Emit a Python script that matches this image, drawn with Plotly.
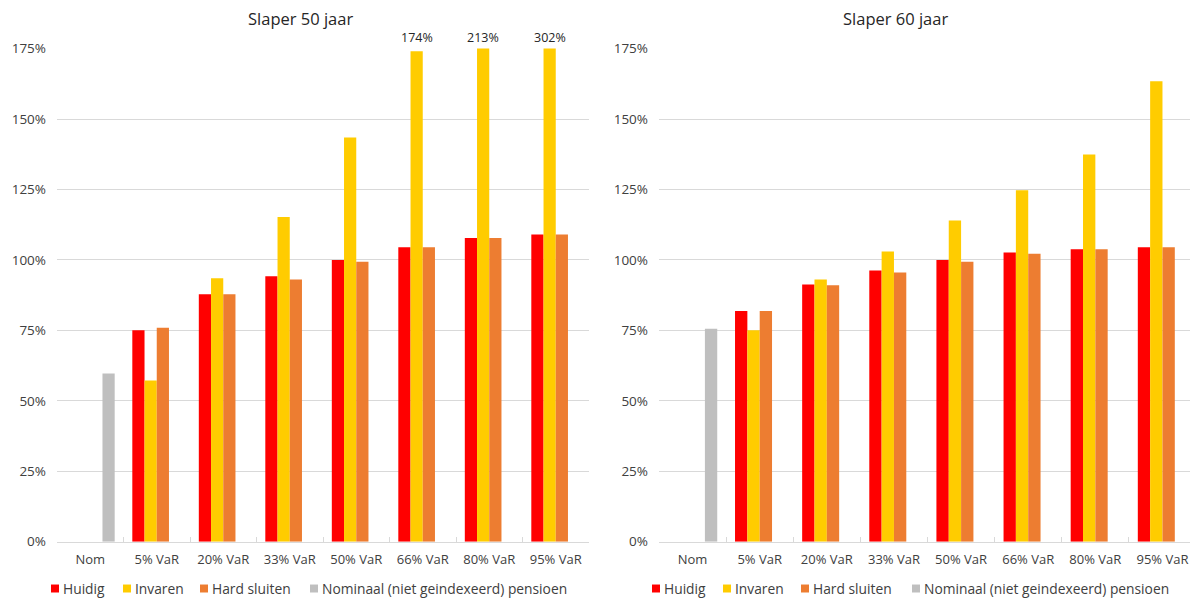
import plotly.graph_objects as go

# Scenario categories (shared by both panels)
categories = ["Nom", "5% VaR", "20% VaR", "33% VaR", "50% VaR", "66% VaR", "80% VaR", "95% VaR"]

# Slaper 50 jaar (percent of target pension)
huidig_50 = [None, 75.0, 87.8, 94.2, 100.0, 104.5, 107.8, 109.0]
invaren_50 = [None, 57.2, 93.5, 115.2, 143.4, 174.0, 213.0, 302.0]
hard_50 = [None, 75.9, 87.8, 93.0, 99.3, 104.5, 107.8, 109.0]
nominaal_50 = [59.7, None, None, None, None, None, None, None]

# Slaper 60 jaar
huidig_60 = [None, 81.9, 91.3, 96.2, 100.0, 102.6, 103.8, 104.5]
invaren_60 = [None, 75.0, 93.0, 103.0, 114.0, 124.7, 137.4, 163.4]
hard_60 = [None, 81.9, 91.0, 95.5, 99.3, 102.2, 103.8, 104.5]
nominaal_60 = [75.6, None, None, None, None, None, None, None]

series_names = ["Huidig", "Invaren", "Hard sluiten", "Nominaal (niet geindexeerd) pensioen"]
colors = ["#FF0000", "#FFCC00", "#ED7D31", "#BFBFBF"]

Y_MAX = 175
BARGAP = 0.265
FONT = "Open Sans"
TEXT = "#404040"
GRID = "#D9D9D9"

# vertical placement helper: pixel row -> paper fraction
V_OFF, V_H = 8.3, 584.2


def py(px):
    return 1 - (px - V_OFF) / V_H


fig = go.Figure()

panels = [
    ("x", "y", [huidig_50, invaren_50, hard_50, nominaal_50]),
    ("x2", "y2", [huidig_60, invaren_60, hard_60, nominaal_60]),
]
for xa, ya, series in panels:
    for name, vals, col in zip(series_names, series, colors):
        fig.add_trace(go.Bar(
            x=categories, y=vals, name=name, xaxis=xa, yaxis=ya,
            marker=dict(color=col, line=dict(width=0)),
            showlegend=False, hoverinfo="x+y+name",
        ))

y_dom = [py(543), py(48)]
xcommon = dict(
    type="category", showgrid=False, showline=True, linecolor=GRID, linewidth=1,
    ticks="inside", tickson="boundaries", ticklen=5, tickcolor=GRID,
    tickfont=dict(family=FONT, size=13, color=TEXT), ticklabelstandoff=6,
    fixedrange=True,
)
ycommon = dict(
    range=[0, Y_MAX], dtick=25, ticksuffix="%", showgrid=True, gridcolor=GRID,
    gridwidth=1, zeroline=False, showline=False,
    tickfont=dict(family=FONT, size=13.5, color=TEXT),
    ticklabelstandoff=10, fixedrange=True, domain=y_dom,
)

fig.update_layout(
    width=1190, height=600,
    margin=dict(l=0, r=0, t=0, b=0),
    paper_bgcolor="white", plot_bgcolor="white",
    barmode="group", bargap=BARGAP, bargroupgap=0,
    xaxis=dict(domain=[57 / 1190, 589 / 1190], anchor="y", range=[-0.5, 7.5], **xcommon),
    yaxis=dict(anchor="x", **ycommon),
    xaxis2=dict(domain=[659 / 1190, 1.0], anchor="y2", range=[-0.5, 7.41], **xcommon),
    yaxis2=dict(anchor="x2", **ycommon),
    font=dict(family=FONT, color=TEXT),
)

# Panel titles
for txt, xc in [("Slaper 50 jaar", 300 / 1190), ("Slaper 60 jaar", 895 / 1190)]:
    fig.add_annotation(text=txt, x=xc, y=py(18), xref="paper", yref="paper",
                       showarrow=False, font=dict(family=FONT, size=16.5, color="#262626"),
                       xanchor="center", yanchor="middle")

# Values of the clipped "Invaren" bars, written above the plot area
bar_w = (1 - BARGAP) / 4
for i, v in enumerate(invaren_50):
    if v is not None and v > Y_MAX - 5:
        fig.add_annotation(text=f"{v:.0f}%", x=i - 0.5 * bar_w, y=Y_MAX, xref="x", yref="y",
                           showarrow=False, yshift=11, xanchor="center", yanchor="middle",
                           font=dict(family=FONT, size=12.5, color="#262626"))

# Legends below each panel
legend_rows = [
    [51, 123, 200, 310],
    [652, 723, 801, 912],
]
for starts in legend_rows:
    for x0, name, col in zip(starts, series_names, colors):
        fig.add_shape(type="rect", xref="paper", yref="paper",
                      x0=x0 / 1190, x1=(x0 + 8) / 1190,
                      y0=py(594), y1=py(586),
                      fillcolor=col, line=dict(width=0))
        fig.add_annotation(text=name, x=(x0 + 10) / 1190, y=py(590),
                           xref="paper", yref="paper", showarrow=False,
                           xanchor="left", yanchor="middle",
                           font=dict(family=FONT, size=13.8, color=TEXT))

fig.write_html("out.html")
